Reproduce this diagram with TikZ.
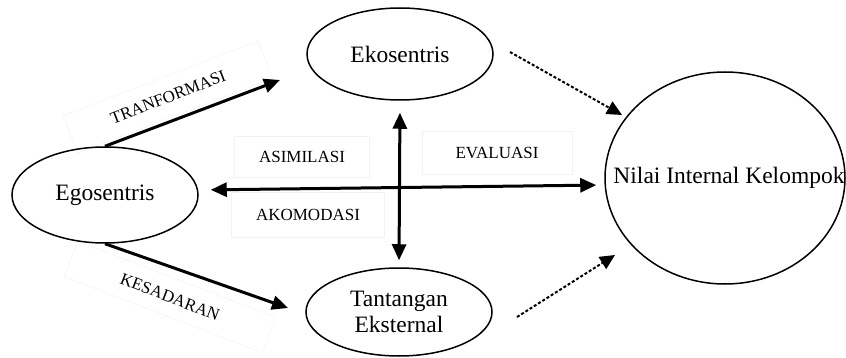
\documentclass[tikz,border=0pt]{standalone}
\usepackage{fontspec}
\setmainfont{Liberation Serif}
\usetikzlibrary{arrows.meta, positioning, shapes.geometric, calc}

\begin{document}
\begin{tikzpicture} [x=1pt, y=-1pt, align=center,
    konsep/.style={draw, ellipse, line width=1.5pt, inner sep=0pt, font=\fontsize{23.5}{26}\selectfont},
    teks/.style={draw=black!5, line width=0.5pt, font=\fontsize{17}{19}\selectfont},
    panah/.style={line width=3pt, -{Triangle[length=16pt, width=14pt]}},
    panahdua/.style={line width=3pt, {Triangle[length=16pt, width=14pt]}-{Triangle[length=16pt, width=14pt]}},
    titik/.style={line width=2pt, dash pattern=on 3pt off 2pt, -{Triangle[length=15pt, width=14pt]}}]
    \useasboundingbox (0,0) rectangle (846,358);

    % Draw the label boxes
    \node[teks, rotate=21, minimum width=209, minimum height=40] (tf) at (168,97) {TRANFORMASI};
    \node[teks, rotate=-21, minimum width=212, minimum height=38] (ks) at (170,297) {KESADARAN};
    \node[teks, minimum width=135, minimum height=41] (asi) at (302,157) {ASIMILASI};
    \node[teks, minimum width=153, minimum height=45] (ako) at (308,215) {AKOMODASI};
    \node[teks, minimum width=150, minimum height=43] (eva) at (497,153) {EVALUASI};

    % Draw the ellipses
    \node[konsep, minimum width=186, minimum height=92] (eko) at (400,54) {Ekosentris};
    \node[konsep, minimum width=186, minimum height=96] (ego) at (105,195) {Egosentris};
    \node[konsep, minimum width=186, minimum height=88] (tan) at (399,312) {Tantangan\\Eksternal};
    \node[konsep, minimum width=240, minimum height=212] (nilai) at (725,178) {\makebox[0pt]{\hspace*{8pt}Nilai Internal Kelompok}};

    % Free ends of the arrows
    \coordinate (tfUjung) at (280,80);
    \coordinate (ksUjung) at (288,308);
    \coordinate (atasAwal) at (510,52);
    \coordinate (atasUjung) at (622,115);
    \coordinate (bawahAwal) at (517,317);
    \coordinate (bawahUjung) at (615,255);

    % Draw the arrows
    \draw[panah] (ego.north) -- (tfUjung);
    \draw[panah] (ego.south) -- (ksUjung);
    \draw[panahdua, shorten <=12pt, shorten >=7pt] (eko.south) -- (tan.north);
    \draw[panahdua, shorten <=12pt, shorten >=8pt] ([yshift=5pt]ego.east) -- ([yshift=-7pt]nilai.west);

    % Draw the dotted arrows
    \draw[titik] (atasAwal) -- (atasUjung);
    \draw[titik] (bawahAwal) -- (bawahUjung);
\end{tikzpicture}
\end{document}
